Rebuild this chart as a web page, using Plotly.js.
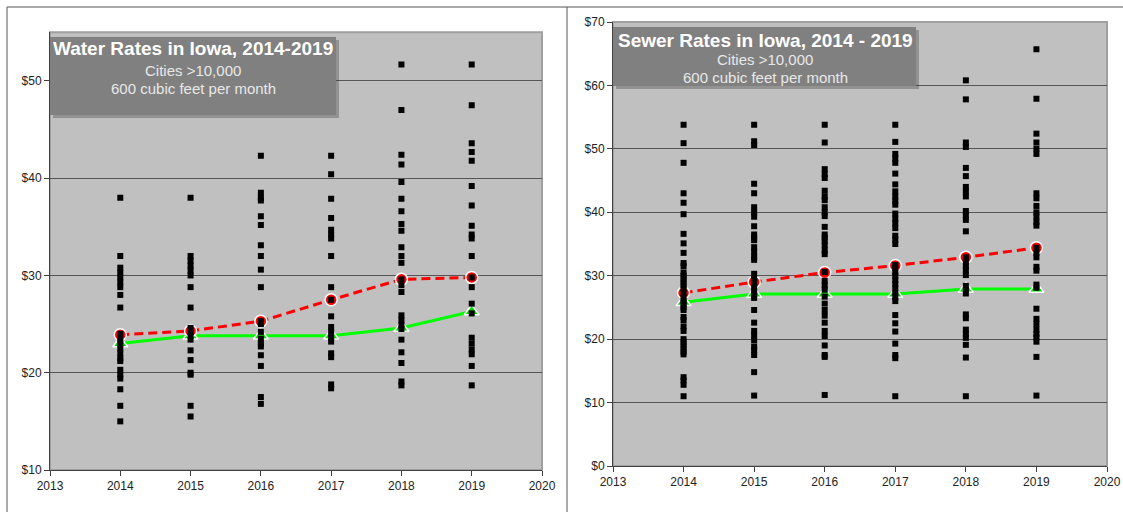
<!DOCTYPE html>
<html>
<head>
<meta charset="utf-8">
<script src="https://cdn.plot.ly/plotly-3.0.1.min.js"></script>
<style>
html,body{margin:0;padding:0;background:#fff;}
#chart{width:1123px;height:512px;}
</style>
</head>
<body>
<div id="chart"></div>
<script>
// ---- data ----
const years = [2014, 2015, 2016, 2017, 2018, 2019];

const water2014 = [38.0, 32.0, 30.8, 30.3, 29.8, 29.3, 28.8, 28.0, 26.7, 24.0, 23.5, 23.0, 22.5, 22.0, 21.5, 21.2, 20.3, 19.8, 19.4, 18.3, 16.6, 15.0];
const water2015 = [38.0, 32.0, 31.5, 31.0, 30.5, 30.0, 28.8, 26.7, 24.6, 24.2, 23.8, 23.4, 22.3, 21.3, 20.0, 19.8, 16.6, 15.5];
const water2016 = [42.3, 38.5, 38.0, 37.7, 36.1, 35.2, 33.1, 32.0, 30.6, 28.8, 25.3, 25.0, 24.2, 23.5, 23.0, 22.7, 21.8, 20.7, 17.5, 16.8];
const water2017 = [42.3, 40.4, 37.9, 35.9, 34.7, 34.2, 33.8, 32.0, 28.8, 27.5, 25.8, 24.7, 24.2, 23.6, 23.2, 22.0, 21.6, 18.8, 18.4];
const water2018 = [51.7, 47.0, 42.4, 41.4, 39.6, 37.9, 36.6, 35.3, 34.6, 32.9, 32.0, 31.3, 29.6, 29.0, 28.3, 25.9, 25.4, 24.9, 24.5, 23.4, 22.1, 21.0, 19.1, 18.7];
const water2019 = [51.7, 47.5, 43.6, 42.7, 41.8, 39.2, 37.2, 35.1, 34.2, 33.8, 32.0, 29.8, 28.8, 27.1, 26.1, 23.6, 23.0, 22.4, 21.9, 20.7, 18.7];
const waterRed = [23.9, 24.3, 25.3, 27.5, 29.6, 29.8];
const waterGreen = [23.0, 23.8, 23.8, 23.8, 24.6, 26.3];

const sewer2014 = [53.8, 50.9, 47.8, 43.0, 41.5, 39.7, 36.6, 35.1, 33.6, 32.0, 31.5, 30.5, 30.0, 29.5, 29.0, 28.5, 28.0, 27.3, 26.5, 26.0, 25.5, 25.0, 24.6, 23.5, 23.0, 22.0, 21.3, 20.0, 19.5, 19.0, 18.5, 18.0, 17.6, 14.0, 13.5, 12.8, 11.0];
const sewer2015 = [53.8, 51.2, 50.6, 44.5, 43.0, 40.8, 40.0, 39.3, 37.8, 36.5, 36.0, 35.6, 34.5, 33.8, 33.0, 32.5, 30.3, 29.5, 29.0, 28.3, 27.5, 27.0, 26.5, 24.6, 22.6, 21.3, 20.6, 19.8, 18.8, 18.3, 17.5, 14.8, 11.1];
const sewer2016 = [53.8, 51.0, 46.8, 46.0, 45.4, 43.4, 42.5, 41.9, 40.8, 40.0, 39.4, 37.7, 36.5, 36.0, 35.5, 34.8, 34.0, 33.4, 30.6, 29.2, 28.5, 27.8, 26.7, 25.6, 24.6, 23.7, 22.6, 21.3, 20.5, 19.0, 17.5, 17.2, 11.2];
const sewer2017 = [53.8, 51.1, 49.2, 48.5, 47.8, 46.1, 44.4, 43.3, 42.5, 41.8, 41.2, 39.8, 39.0, 38.3, 37.5, 36.3, 35.7, 35.0, 31.7, 31.2, 30.5, 30.0, 29.3, 28.7, 28.0, 27.3, 26.6, 26.0, 23.8, 22.5, 21.2, 19.3, 17.5, 17.0, 11.0];
const sewer2018 = [60.8, 57.8, 51.0, 50.3, 47.0, 45.7, 44.0, 43.3, 42.5, 40.2, 39.5, 38.8, 37.0, 32.9, 32.2, 31.5, 30.9, 30.1, 28.4, 27.8, 27.2, 23.9, 23.3, 21.5, 20.8, 20.2, 19.1, 17.1, 11.0];
const sewer2019 = [65.7, 57.9, 52.4, 51.0, 50.0, 49.2, 43.0, 42.2, 41.0, 40.0, 39.3, 38.5, 37.9, 34.4, 33.6, 32.9, 31.4, 30.8, 28.6, 28.1, 24.8, 23.2, 22.4, 21.5, 20.8, 20.3, 19.6, 17.2, 11.1];
const sewerRed = [27.3, 29.0, 30.5, 31.6, 32.9, 34.4];
const sewerGreen = [25.8, 27.1, 27.1, 27.1, 27.9, 27.9];

const waterTitle = "Water Rates in Iowa, 2014-2019";
const sewerTitle = "Sewer Rates in Iowa, 2014 - 2019";
const subLine1 = "Cities >10,000";
const subLine2 = "600 cubic feet per month";

// ---- build ----
function flatten(groups) {
  const xs = [], ys = [];
  groups.forEach((g, i) => g.forEach(v => { xs.push(years[i]); ys.push(v); }));
  return {xs, ys};
}
const W = flatten([water2014, water2015, water2016, water2017, water2018, water2019]);
const S = flatten([sewer2014, sewer2015, sewer2016, sewer2017, sewer2018, sewer2019]);

function lineTraces(xa, ya, red, green) {
  return [
    {x: years, y: green, xaxis: xa, yaxis: ya, mode: 'lines+markers', type: 'scatter',
     line: {color: '#00ff00', width: 3},
     marker: {symbol: 'triangle-up', size: 13, color: '#00dd00', line: {color: '#ffffff', width: 1.5}},
     hoverinfo: 'skip'},
    {x: years, y: red, xaxis: xa, yaxis: ya, mode: 'lines+markers', type: 'scatter',
     line: {color: '#ff0000', width: 3, dash: '9px,5px'},
     marker: {symbol: 'circle', size: 12, color: '#ff0000', line: {color: '#ffffff', width: 1.5}},
     hoverinfo: 'skip'}
  ];
}
function ptsTrace(xa, ya, d) {
  return {x: d.xs, y: d.ys, xaxis: xa, yaxis: ya, mode: 'markers', type: 'scatter',
    marker: {symbol: 'square', size: 6, color: '#000000'}, hoverinfo: 'skip'};
}

const data = [
  ...lineTraces('x', 'y', waterRed, waterGreen),
  ptsTrace('x', 'y', W),
  ...lineTraces('x2', 'y2', sewerRed, sewerGreen),
  ptsTrace('x2', 'y2', S)
];

const FW = 1123, FH = 512;
const px = v => v / FW;
const py = v => (FH - v) / FH;

const tickFont = {family: 'Liberation Sans, Arial, sans-serif', size: 12, color: '#222'};
function xAxis(l, r, anchor) {
  return {domain: [px(l), px(r)], range: [2013, 2020], dtick: 1, tick0: 2013, anchor: anchor,
    showgrid: false, zeroline: false, showline: true, linecolor: '#404040', linewidth: 1,
    ticks: 'outside', ticklen: 5, tickcolor: '#404040', tickfont: tickFont, fixedrange: true};
}
function yAxis(b, t, range, anchor) {
  return {domain: [py(b), py(t)], range: range, dtick: 10, anchor: anchor, tickprefix: '$',
    showgrid: true, gridcolor: '#555555', gridwidth: 1, zeroline: false,
    showline: true, linecolor: '#404040', linewidth: 1,
    ticks: 'outside', ticklen: 5, tickcolor: '#404040', tickfont: tickFont, fixedrange: true};
}

const boxShapes = (x0, y0, x1, y1) => [
  {type: 'rect', xref: 'paper', yref: 'paper', x0: px(x0 + 3), x1: px(x1 + 3), y0: py(y1 + 3), y1: py(y0 + 3),
   fillcolor: 'rgba(60,60,60,0.35)', line: {width: 0}, layer: 'above'},
  {type: 'rect', xref: 'paper', yref: 'paper', x0: px(x0), x1: px(x1), y0: py(y1), y1: py(y0),
   fillcolor: '#808080', line: {width: 0}, layer: 'above'}
];

const shapes = [
  // plot area border (top/right lighter)
  {type: 'rect', xref: 'x domain', yref: 'y domain', x0: 0, x1: 1, y0: 0, y1: 1, line: {color: '#a0a0a0', width: 2}, layer: 'below'},
  {type: 'rect', xref: 'x2 domain', yref: 'y2 domain', x0: 0, x1: 1, y0: 0, y1: 1, line: {color: '#a0a0a0', width: 2}, layer: 'below'},
  // outer chart frames
  {type: 'line', xref: 'paper', yref: 'paper', x0: px(7), x1: 1, y0: py(7), y1: py(7), line: {color: '#555', width: 1}},
  {type: 'line', xref: 'paper', yref: 'paper', x0: px(7), x1: px(7), y0: py(7), y1: 0, line: {color: '#555', width: 1}},
  {type: 'line', xref: 'paper', yref: 'paper', x0: px(567), x1: px(567), y0: py(7), y1: 0, line: {color: '#555', width: 1}},
  ...boxShapes(50, 37, 336, 115),
  ...boxShapes(613, 27, 916, 86)
];

const titleFont = {family: 'Liberation Sans, Arial, sans-serif', size: 19, color: '#ffffff', weight: 'bold'};
const subFont = {family: 'Liberation Sans, Arial, sans-serif', size: 15, color: '#e8e8e8'};
const ann = (txt, x, y, font) => ({text: txt, xref: 'paper', yref: 'paper', x: px(x), y: py(y),
  xanchor: 'center', yanchor: 'middle', showarrow: false, font: font});

const annotations = [
  ann('<b>' + waterTitle + '</b>', 193, 48, titleFont),
  ann(subLine1, 193, 70, subFont),
  ann(subLine2, 193, 88, subFont),
  ann('<b>' + sewerTitle + '</b>', 765, 40, titleFont),
  ann(subLine1, 765, 59, subFont),
  ann(subLine2, 765, 77, subFont)
];

const layout = {
  width: FW, height: FH,
  margin: {l: 0, r: 0, t: 0, b: 0},
  paper_bgcolor: '#ffffff',
  plot_bgcolor: '#c0c0c0',
  showlegend: false,
  xaxis: xAxis(50, 542, 'y'),
  yaxis: yAxis(470, 32.3, [10, 55], 'x'),
  xaxis2: xAxis(613, 1107, 'y2'),
  yaxis2: yAxis(466, 22, [0, 70], 'x2'),
  shapes: shapes,
  annotations: annotations,
  font: {family: 'Liberation Sans, Arial, sans-serif'}
};

Plotly.newPlot('chart', data, layout, {staticPlot: true, displayModeBar: false});
</script>
</body>
</html>
